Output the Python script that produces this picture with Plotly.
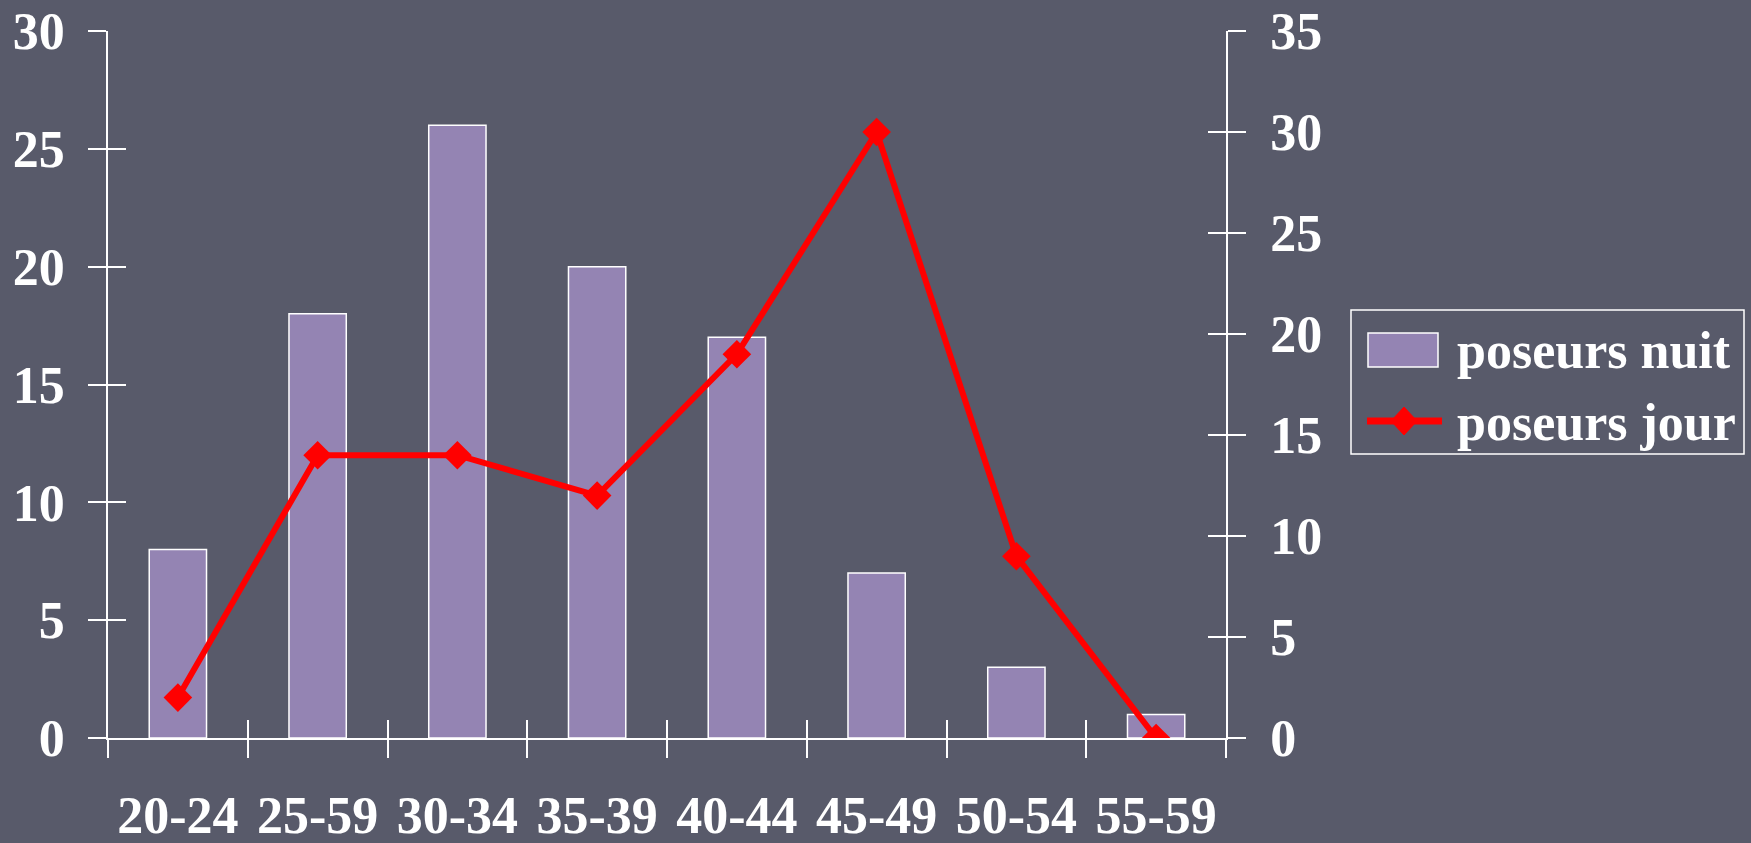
import plotly.graph_objects as go

# age groups (labels kept as printed on the original slide)
age_groups = ["20-24", "25-59", "30-34", "35-39", "40-44", "45-49", "50-54", "55-59"]
poseurs_nuit = [8, 18, 26, 20, 17, 7, 3, 1]      # bars, left axis
poseurs_jour = [2, 14, 14, 12, 19, 30, 9, 0]     # line, right axis

left_ticks = [0, 5, 10, 15, 20, 25, 30]
right_ticks = [0, 5, 10, 15, 20, 25, 30, 35]

BG = "#585a6a"
WHITE = "#ffffff"
BAR = "#9484b3"
RED = "#ff0000"
FONT = dict(family="Liberation Serif, Times New Roman, serif", size=52, color=WHITE, weight="bold")
TICKLEN = 18

# plot area in pixels, used to place the hand-drawn legend (paper coords)
W, H = 1751, 843
L, R, T, B = 108, 525, 31, 105
PW, PH = W - L - R, H - T - B


def px(x):
    return (x - L) / PW


def py(y):
    return (H - B - y) / PH


fig = go.Figure()
fig.add_trace(go.Bar(
    x=age_groups, y=poseurs_nuit, name="poseurs nuit",
    marker=dict(color=BAR, line=dict(color=WHITE, width=1.5)),
    width=0.41, xaxis="x", yaxis="y",
))
fig.add_trace(go.Scatter(
    x=age_groups, y=poseurs_jour, name="poseurs jour", mode="lines+markers",
    line=dict(color=RED, width=6),
    marker=dict(symbol="diamond", size=22, color=RED),
    xaxis="x", yaxis="y2",
))
# invisible copies so the overlay axes (inner half of the crossing ticks) get drawn
fig.add_trace(go.Scatter(x=list(range(len(age_groups))), y=poseurs_nuit, xaxis="x2", yaxis="y3",
                         mode="markers", opacity=0, hoverinfo="skip", showlegend=False))
fig.add_trace(go.Scatter(x=age_groups, y=poseurs_jour, xaxis="x", yaxis="y4",
                         mode="markers", opacity=0, hoverinfo="skip", showlegend=False))

axis_common = dict(showgrid=False, zeroline=False, showline=True, linecolor=WHITE,
                   linewidth=1.5, tickcolor=WHITE, tickwidth=1.5, ticklen=TICKLEN,
                   automargin=False)

fig.update_layout(
    width=W, height=H,
    margin=dict(l=L, r=R, t=T, b=B, autoexpand=False),
    paper_bgcolor=BG, plot_bgcolor=BG,
    font=FONT,
    showlegend=False,
    xaxis=dict(**axis_common, type="category", categoryorder="array", categoryarray=age_groups,
               range=[-0.5, len(age_groups) - 0.5], ticks="outside", tickson="boundaries",
               tickfont=FONT, ticklabelstandoff=31),
    xaxis2=dict(**axis_common, overlaying="x", anchor="y", type="linear",
                range=[-0.5, len(age_groups) - 0.5],
                tickvals=[i - 0.5 for i in range(len(age_groups) + 1)],
                ticks="inside", showticklabels=False),
    yaxis=dict(**axis_common, range=[0, 30], tickvals=left_ticks, ticks="outside",
               tickfont=FONT, ticklabelstandoff=13, ticklabeloverflow="allow"),
    yaxis2=dict(**axis_common, range=[0, 35], tickvals=right_ticks, ticks="outside",
                side="right", overlaying="y", anchor="x", tickfont=FONT,
                ticklabelstandoff=14, ticklabeloverflow="allow"),
    yaxis3=dict(**axis_common, range=[0, 30], tickvals=left_ticks, ticks="inside",
                side="left", overlaying="y", anchor="x2", showticklabels=False),
    yaxis4=dict(**axis_common, range=[0, 35], tickvals=right_ticks, ticks="inside",
                side="right", overlaying="y", anchor="x", showticklabels=False),
)

# legend box, drawn by hand to get the wide swatches of the original
shapes = [
    dict(type="rect", xref="paper", yref="paper", x0=px(1351), x1=px(1744), y0=py(454), y1=py(310),
         line=dict(color=WHITE, width=1.5), fillcolor="rgba(0,0,0,0)"),
    dict(type="rect", xref="paper", yref="paper", x0=px(1368), x1=px(1438), y0=py(367), y1=py(333),
         line=dict(color=WHITE, width=1.5), fillcolor=BAR),
    dict(type="line", xref="paper", yref="paper", x0=px(1367), x1=px(1442), y0=py(421), y1=py(421),
         line=dict(color=RED, width=7)),
    dict(type="path", xref="paper", yref="paper",
         path=(f"M{px(1391)},{py(421)} L{px(1404)},{py(407)} L{px(1417)},{py(421)} "
               f"L{px(1404)},{py(435)} Z"),
         line=dict(color=RED, width=1), fillcolor=RED),
]
fig.update_layout(shapes=shapes)
for label, yc in (("poseurs nuit", 350), ("poseurs jour", 422)):
    fig.add_annotation(text=label, xref="paper", yref="paper", x=px(1455), y=py(yc),
                       xanchor="left", yanchor="middle", showarrow=False, font=FONT)

fig.write_html("out.html", config={"displayModeBar": False},
               post_script="document.body.style.margin='0';")
